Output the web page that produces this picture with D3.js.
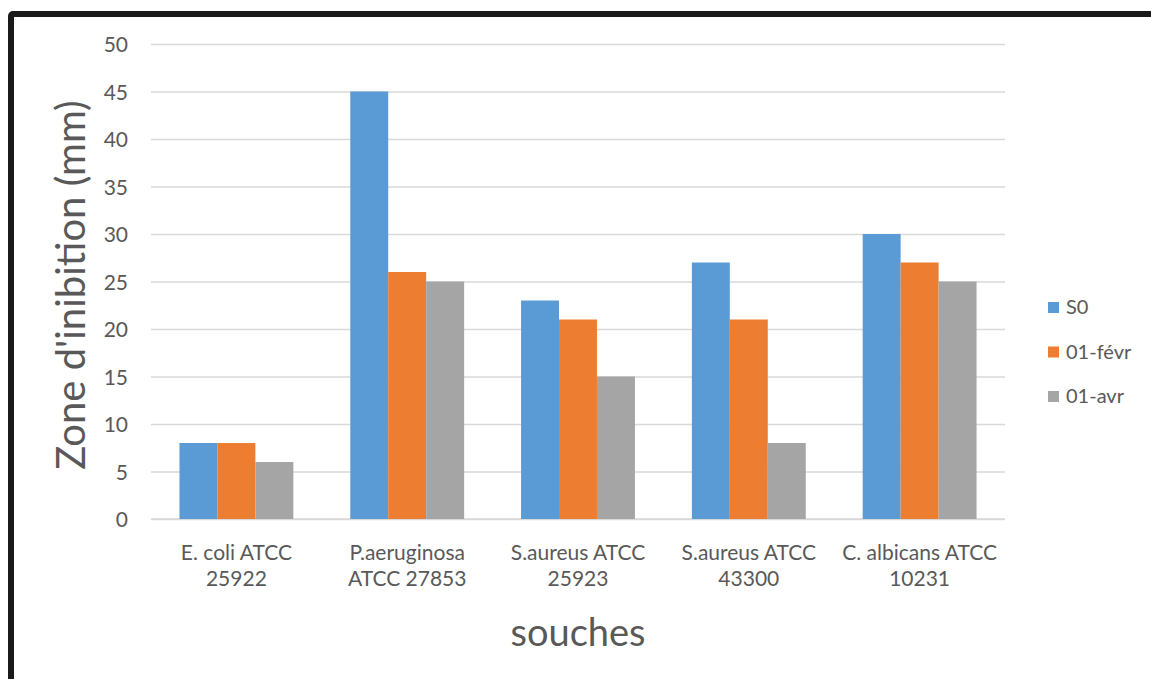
<!DOCTYPE html>
<html><head><meta charset="utf-8">
<script src="https://cdn.jsdelivr.net/npm/d3@7"></script>
<style>body{margin:0;background:#fff;} svg{display:block;font-family:Lato,"Open Sans",sans-serif;}</style>
</head><body><svg id="c" width="1151" height="679"></svg>
<script>
const categories = [["E. coli ATCC","25922"],["P.aeruginosa","ATCC 27853"],["S.aureus ATCC","25923"],["S.aureus ATCC","43300"],["C. albicans ATCC","10231"]];
const seriesNames = ["S0","01-févr","01-avr"];
const S0 = [8,45,23,27,30];
const fevr = [8,26,21,21,27];
const avr = [6,25,15,8,25];
const yTicks = [0,5,10,15,20,25,30,35,40,45,50];
const colors = ["#5b9bd5","#ed7d31","#a5a5a5"];
const series = [S0,fevr,avr];

const svg = d3.select("#c");
svg.append("rect").attr("x",11).attr("y",14).attr("width",1200).attr("height",700)
  .attr("fill","none").attr("stroke","#1a1a1a").attr("stroke-width",6).attr("rx",2);

const x0 = d3.scaleBand().domain(d3.range(categories.length)).range([151,1005]);
const y = d3.scaleLinear().domain([0,50]).range([519,44]);
const gw = x0.bandwidth()*3/4.5;
const x1 = d3.scaleBand().domain(d3.range(3)).range([0,gw]);

const yAxis = d3.axisLeft(y).tickValues(yTicks).tickSize(-(1005-151)).tickPadding(23);
const ga = svg.append("g").attr("transform","translate(151,0)").call(yAxis);
ga.select(".domain").remove();
ga.selectAll(".tick line").attr("stroke","#d9d9d9").attr("stroke-width",1.3);
ga.selectAll(".tick text").attr("fill","#595959").attr("dy","0.36em").style("font-size","21px").style("font-family","Lato");

svg.append("line").attr("x1",151).attr("x2",1005).attr("y1",y(0)).attr("y2",y(0)).attr("stroke","#d9d9d9").attr("stroke-width",1.3);

series.forEach((s,si)=>{
  svg.append("g").selectAll("rect").data(s).join("rect")
    .attr("x",(d,i)=>x0(i)+(x0.bandwidth()-gw)/2+x1(si))
    .attr("width",x1.bandwidth())
    .attr("y",d=>y(d)).attr("height",d=>y(0)-y(d))
    .attr("fill",colors[si]);
});

const cl = svg.append("g");
categories.forEach((c,i)=>{
  c.forEach((t,j)=>{
    cl.append("text").attr("x",x0(i)+x0.bandwidth()/2).attr("y",560+j*26)
      .attr("text-anchor","middle").attr("fill","#595959").style("font-size","21px").text(t);
  });
});

svg.append("text").attr("x",578).attr("y",646).attr("text-anchor","middle")
  .attr("fill","#595959").style("font-size","38px").text("souches");
svg.append("text").attr("transform","translate(85,285) rotate(-90)").attr("text-anchor","middle")
  .attr("fill","#595959").style("font-size","40px").text("Zone d'inibition (mm)");

seriesNames.forEach((n,i)=>{
  const yy = 314+i*44.5;
  svg.append("rect").attr("x",1048).attr("y",yy-12).attr("width",11).attr("height",11).attr("fill",colors[i]);
  svg.append("text").attr("x",1066).attr("y",yy).attr("fill","#595959").style("font-size","20px").text(n);
});
</script></body></html>
